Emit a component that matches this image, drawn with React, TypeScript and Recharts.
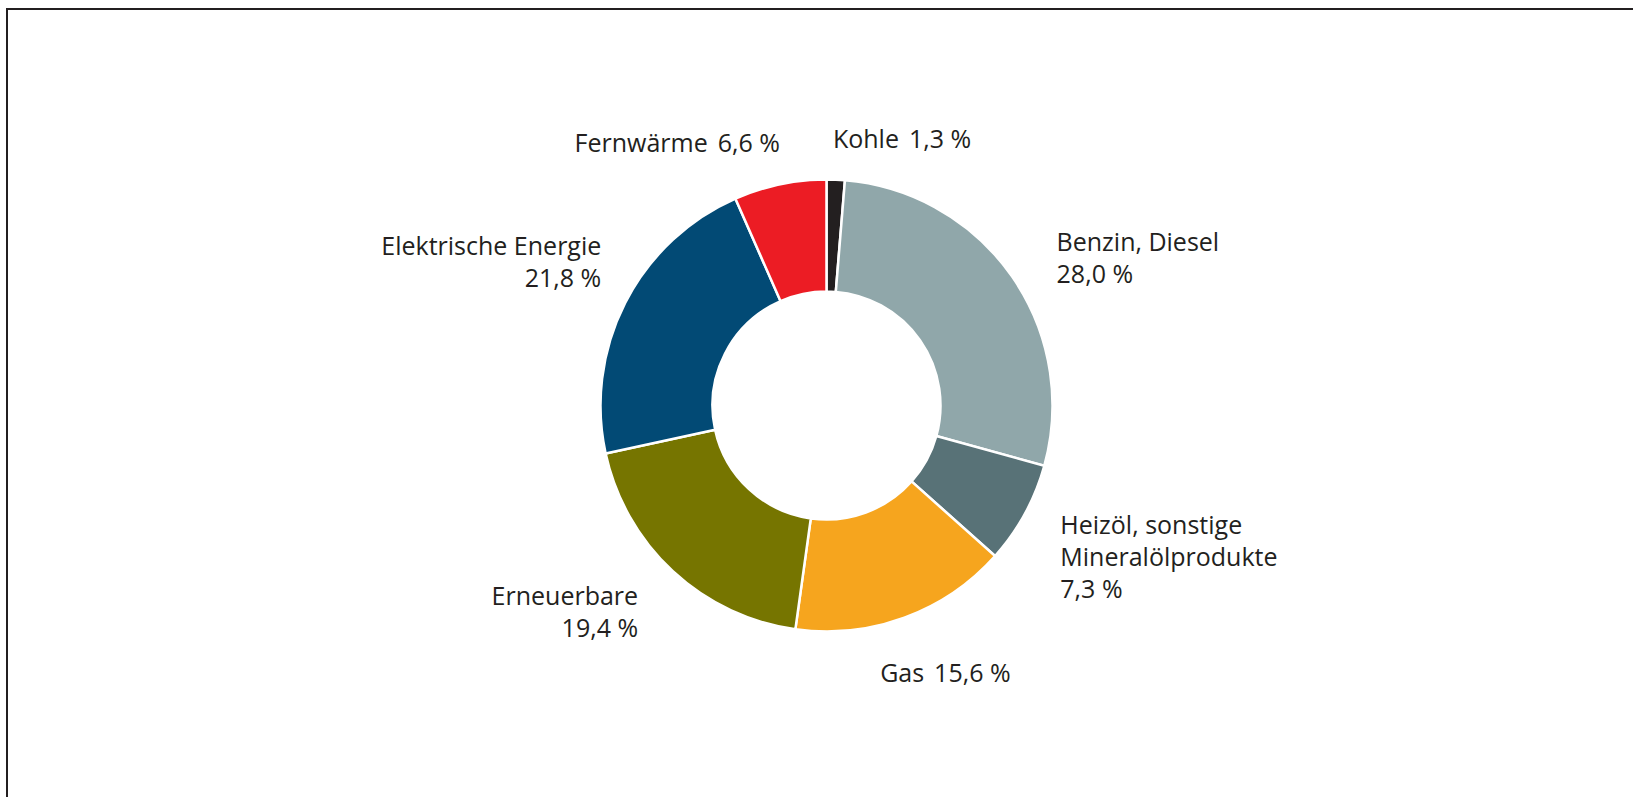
import React from "react";
import { PieChart, Pie, Cell } from "recharts";

// Endenergieverbrauch nach Energieträgern (Anteile in %)
const categories = [
  "Kohle",
  "Benzin, Diesel",
  "Heizöl, sonstige Mineralölprodukte",
  "Gas",
  "Erneuerbare",
  "Elektrische Energie",
  "Fernwärme",
];
const shares = [1.3, 28.0, 7.3, 15.6, 19.4, 21.8, 6.6];
const labelLines = [
  ["Kohle"],
  ["Benzin, Diesel"],
  ["Heizöl, sonstige", "Mineralölprodukte"],
  ["Gas"],
  ["Erneuerbare"],
  ["Elektrische Energie"],
  ["Fernwärme"],
];

const colors = ["#231f20", "#90a7aa", "#587277", "#f6a51e", "#767500", "#024a75", "#ec1c24"];

// label placement relative to a point 255px out at the slice's mid angle
const labelLayout = [
  { inline: true, anchor: "start", dx: -4, dy: -3 },
  { inline: false, anchor: "start", dx: 21, dy: -9 },
  { inline: false, anchor: "start", dx: 10, dy: 6 },
  { inline: true, anchor: "middle", dx: 31, dy: 37 },
  { inline: false, anchor: "end", dx: -15, dy: 13 },
  { inline: false, anchor: "end", dx: 2, dy: -35 },
  { inline: true, anchor: "end", dx: 6, dy: -4 },
];

const data = categories.map((name, i) => ({ name, value: shares[i] }));

const RAD = Math.PI / 180;
const LINE = 32;

const fmt = (v: number) => v.toFixed(1).replace(".", ",") + " %";

const renderLabel = (props: any) => {
  const { cx, cy, midAngle, index, value } = props;
  const r = 255;
  const lay = labelLayout[index];
  const x = cx + r * Math.cos(midAngle * RAD) + lay.dx;
  const y = cy - r * Math.sin(midAngle * RAD) + lay.dy;
  const lines = labelLines[index];
  return (
    <text
      x={x}
      y={y}
      textAnchor={lay.anchor}
      fill="#231f20"
      fontSize={25}
      fontFamily="'Open Sans', sans-serif"
    >
      {lines.map((l, j) => (
        <tspan key={j} x={x} dy={j === 0 ? 0 : LINE}>
          {l}
          {lay.inline && j === lines.length - 1 ? (
            <tspan dx={10}>{fmt(value)}</tspan>
          ) : null}
        </tspan>
      ))}
      {!lay.inline && (
        <tspan x={x} dy={LINE}>
          {fmt(value)}
        </tspan>
      )}
    </text>
  );
};

export default function App() {
  return (
    <div style={{ position: "absolute", left: 0, top: 0, width: 1633, height: 797, background: "#fff" }}>
      <div style={{ position: "absolute", left: 6, top: 8, width: 1627, height: 2, background: "#231f20" }} />
      <div style={{ position: "absolute", left: 6, top: 8, width: 2, height: 789, background: "#231f20" }} />
      <PieChart
        width={1633}
        height={797}
        margin={{ top: 0, right: 0, bottom: 0, left: 0 }}
        style={{ position: "absolute", left: 0, top: 0 }}
      >
        <Pie
          data={data}
          dataKey="value"
          nameKey="name"
          cx={826.5}
          cy={405.5}
          innerRadius={114}
          outerRadius={226}
          startAngle={90}
          endAngle={-270}
          stroke="#ffffff"
          strokeWidth={2.5}
          label={renderLabel}
          labelLine={false}
          isAnimationActive={false}
        >
          {data.map((d, i) => (
            <Cell key={d.name} fill={colors[i]} />
          ))}
        </Pie>
      </PieChart>
    </div>
  );
}
